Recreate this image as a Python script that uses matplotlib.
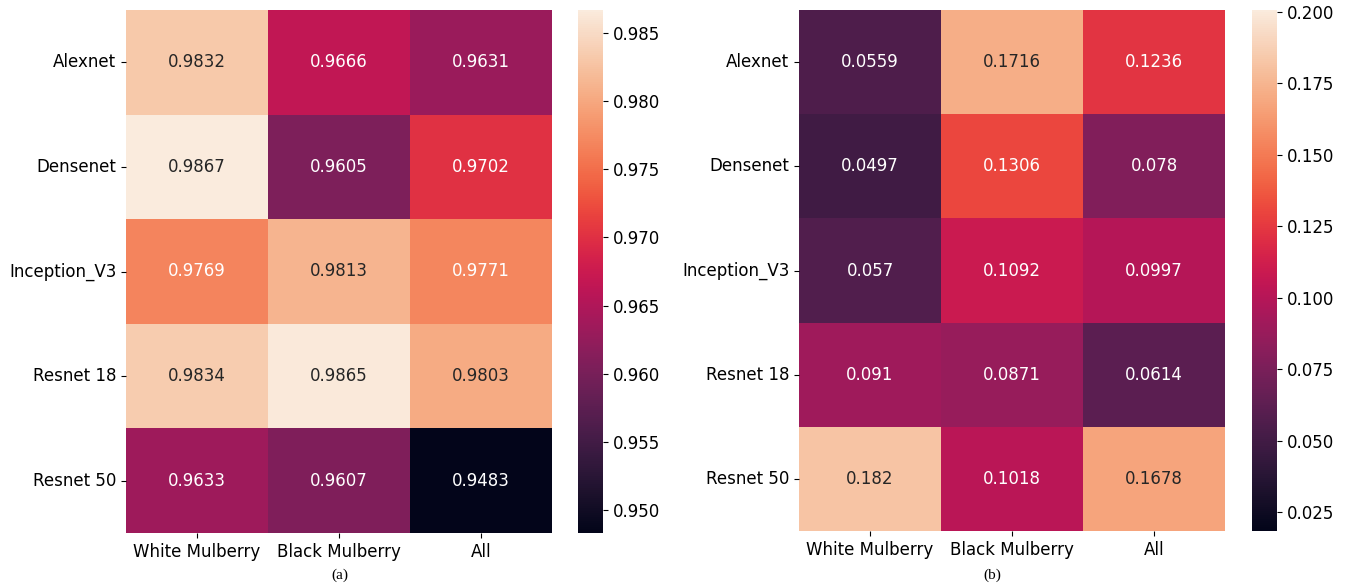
import numpy as np
import matplotlib
matplotlib.use("Agg")
import matplotlib.pyplot as plt
import seaborn as sns

models = ["Alexnet", "Densenet", "Inception_V3", "Resnet 18", "Resnet 50"]
classes = ["White Mulberry", "Black Mulberry", "All"]

# (a) scores per model and class
scores_a = np.array([
    [0.9832, 0.9666, 0.9631],
    [0.9867, 0.9605, 0.9702],
    [0.9769, 0.9813, 0.9771],
    [0.9834, 0.9865, 0.9803],
    [0.9633, 0.9607, 0.9483],
])

# (b) scores per model and class
scores_b = np.array([
    [0.0559, 0.1716, 0.1236],
    [0.0497, 0.1306, 0.078],
    [0.057, 0.1092, 0.0997],
    [0.091, 0.0871, 0.0614],
    [0.182, 0.1018, 0.1678],
])

W, H = 1348, 588
fig = plt.figure(figsize=(W / 100, H / 100), dpi=100)


def box(x0, y0, x1, y1):
    return [x0 / W, 1 - y1 / H, (x1 - x0) / W, (y1 - y0) / H]


ax_a = fig.add_axes(box(126, 10, 552, 533))
cax_a = fig.add_axes(box(578, 10, 603, 533))
ax_b = fig.add_axes(box(799, 10, 1225, 531))
cax_b = fig.add_axes(box(1252, 10, 1277, 531))

sns.heatmap(scores_a, ax=ax_a, cbar_ax=cax_a, cmap="rocket", annot=True, fmt="g",
            annot_kws={"fontsize": 12}, xticklabels=classes, yticklabels=models)
sns.heatmap(scores_b, ax=ax_b, cbar_ax=cax_b, cmap="rocket", annot=True, fmt="g",
            vmin=0.0185, vmax=0.2007,
            annot_kws={"fontsize": 12}, xticklabels=classes, yticklabels=models)

cax_a.set_yticks([0.950, 0.955, 0.960, 0.965, 0.970, 0.975, 0.980, 0.985])
cax_a.set_yticklabels(["0.950", "0.955", "0.960", "0.965", "0.970", "0.975", "0.980", "0.985"])
cax_b.set_yticks([0.025, 0.050, 0.075, 0.100, 0.125, 0.150, 0.175, 0.200])
cax_b.set_yticklabels(["0.025", "0.050", "0.075", "0.100", "0.125", "0.150", "0.175", "0.200"])

for ax in (ax_a, ax_b):
    ax.tick_params(axis="both", labelsize=12)
    plt.setp(ax.get_yticklabels(), rotation=0)
    plt.setp(ax.get_xticklabels(), rotation=0)
for cax in (cax_a, cax_b):
    cax.tick_params(labelsize=12)

fig.text(340 / W, 1 - 575 / H, "(a)", ha="center", va="center",
         family="Liberation Serif", fontsize=11)
fig.text(992 / W, 1 - 575 / H, "(b)", ha="center", va="center",
         family="Liberation Serif", fontsize=11)

fig.savefig("out.png", dpi=100)
